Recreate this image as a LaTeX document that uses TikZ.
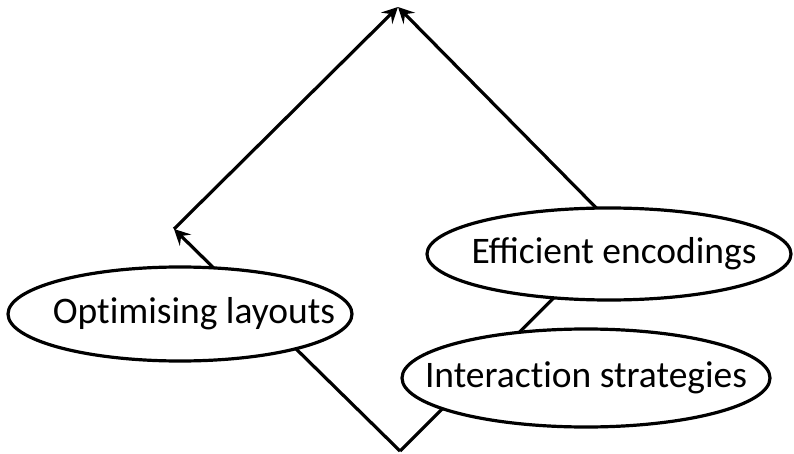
\documentclass[tikz,border=0pt]{standalone}
\usepackage{fontspec}
\setmainfont{Carlito}
\usetikzlibrary{shapes.geometric,arrows.meta}
\begin{document}
\begin{tikzpicture}[x=1pt,y=-1pt,
  conn/.style={line width=3.2pt,-{Stealth[length=16pt,width=16pt,inset=6pt]}},
  oval/.style={ellipse,draw,line width=3.2pt,fill=white,inner xsep=-60pt,inner ysep=0pt,font=\fontsize{37.5}{42}\selectfont}]
\useasboundingbox (0,0) rectangle (794,454);
\coordinate (B) at (400,451);
\coordinate (L) at (174,229);
\coordinate (T) at (398,7);
\coordinate (R) at (620,232);
\draw[conn] (B) -- (L);
\draw[conn] (L) -- (T);
\draw[conn] (B) -- (R);
\draw[conn] (R) -- (T);
\node[oval,minimum width=344pt,minimum height=94pt] (opt) at (180,314) {\hspace{28pt}Opt\kern0pt imising layouts};
\node[oval,minimum width=364pt,minimum height=92pt] (eff) at (609,254) {\hspace{10pt}Efficient encodings};
\node[oval,minimum width=368pt,minimum height=98pt] (int) at (586,378) {Interact\kern0pt ion strategies};
\end{tikzpicture}
\end{document}
